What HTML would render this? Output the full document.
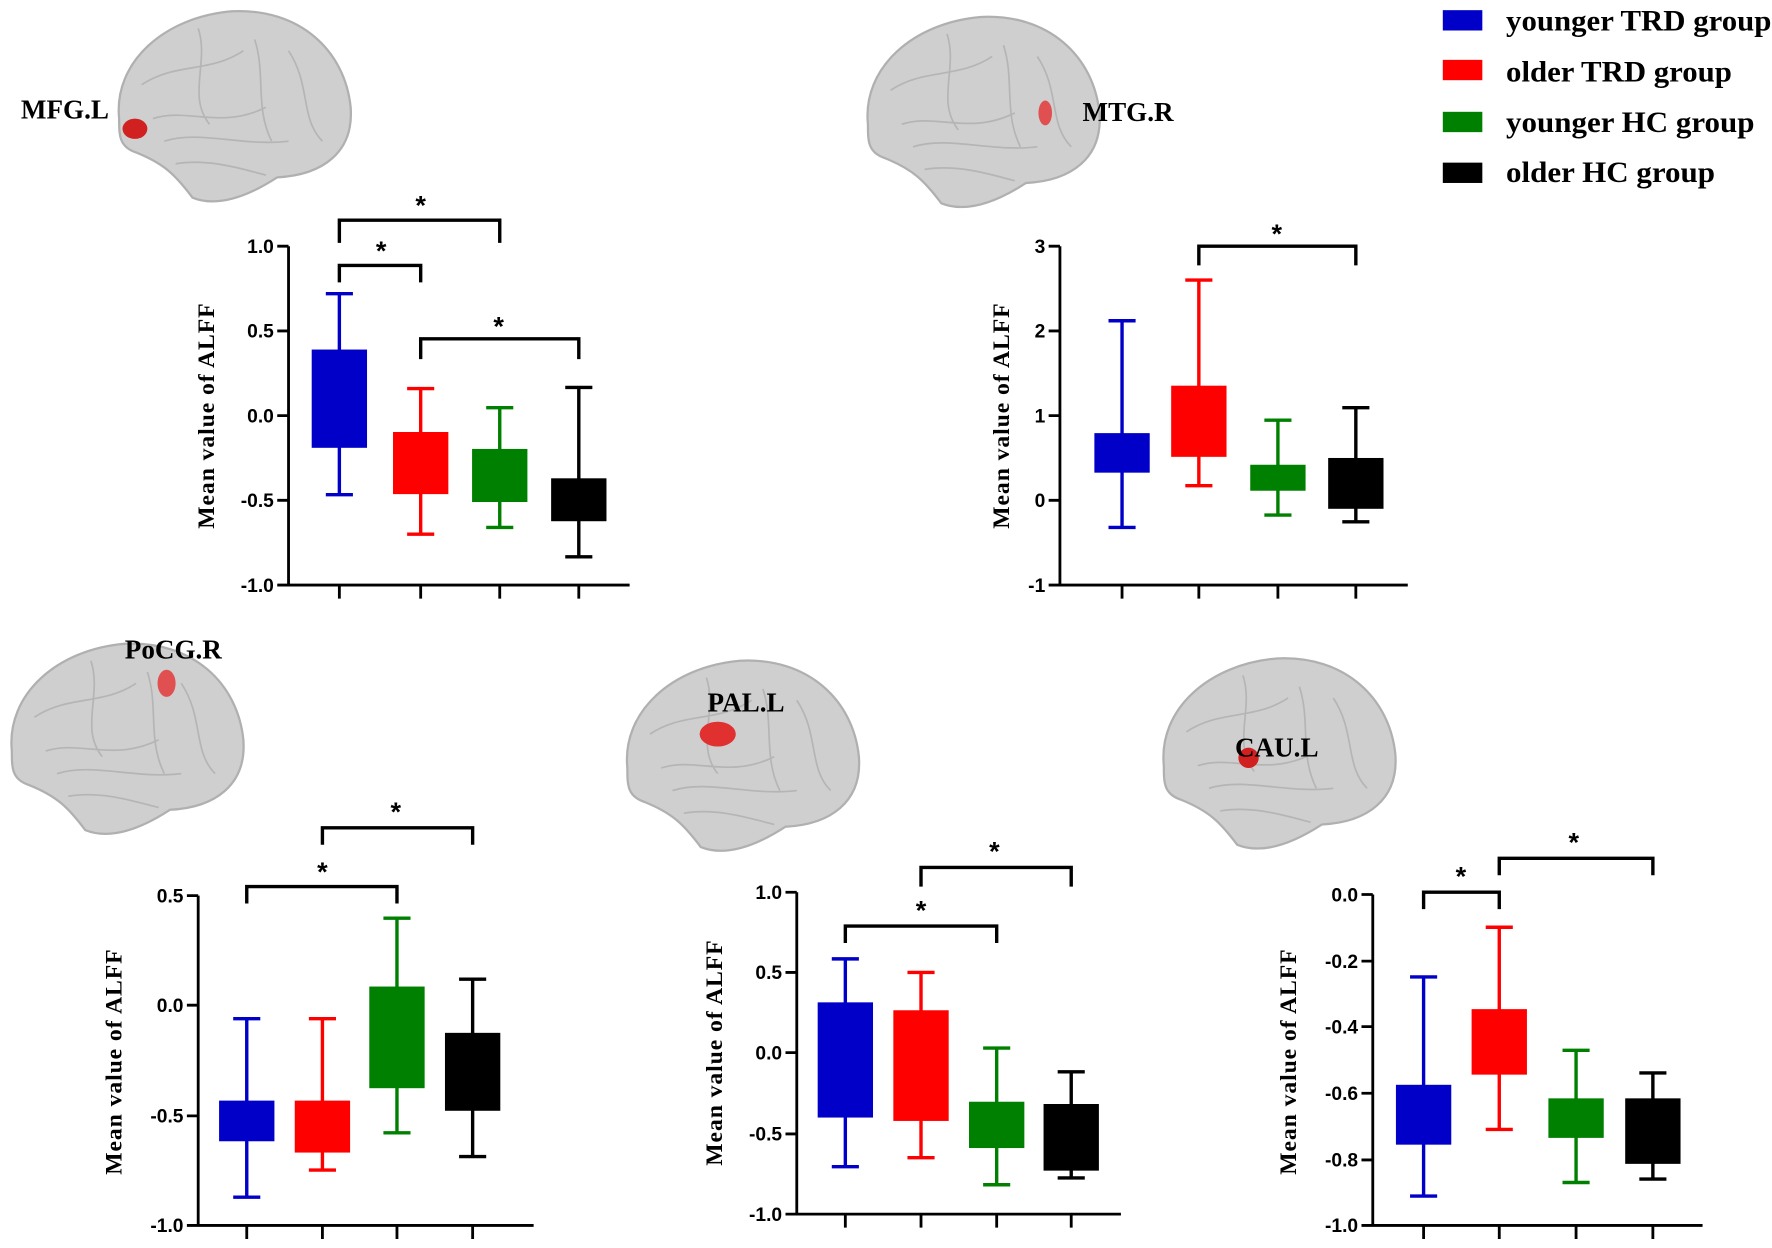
<!DOCTYPE html>
<html><head><meta charset="utf-8"><style>
html,body{margin:0;padding:0;background:#fff}
svg{display:block}
.t{font-family:"Liberation Sans",sans-serif;font-weight:bold;font-size:17px;fill:#000}
.yl{font-family:"Liberation Serif",serif;font-weight:bold;font-size:21px;fill:#000;letter-spacing:0.8px}
.lb{font-family:"Liberation Serif",serif;font-weight:bold;font-size:24px;fill:#000}
.lg{font-family:"Liberation Serif",serif;font-weight:bold;font-size:26px;fill:#000}
.st{font-family:"Liberation Sans",sans-serif;font-weight:bold;font-size:24px;fill:#000}
.ax{stroke:#000;stroke-width:2.5;fill:none}
.br{stroke:#000;stroke-width:3;fill:none}
.brain{fill:#cfcfcf;stroke:#b0b0b0;stroke-width:2}
.g{stroke:#b5b5b5;stroke-width:1.5;fill:none}
</style></head><body>
<svg width="1772" height="1248" viewBox="0 0 1568 1105" xmlns="http://www.w3.org/2000/svg">
<defs>
<g id="brain">
<path class="brain" d="M-100,10 C-105,-40 -60,-80 0,-85 C60,-88 100,-50 105,0 C108,40 80,60 40,62 C20,75 -10,90 -35,80 C-50,60 -60,50 -85,40 C-100,35 -100,25 -100,10Z"/>
<path class="g" d="M-80,-20 C-50,-40 -20,-30 10,-50 M-70,10 C-40,0 -10,20 30,0 M-60,30 C-30,20 10,35 50,30 M20,-60 C30,-30 20,0 35,30 M-30,-70 C-20,-40 -40,-10 -20,15 M50,-50 C70,-20 60,10 80,30 M-50,50 C-20,45 10,55 30,60"/>
</g>
</defs>

<!-- Legend -->
<rect x="1277" y="9" width="35" height="18" fill="#0000c8"/>
<rect x="1277" y="53" width="35" height="18" fill="#ff0000"/>
<rect x="1277" y="99" width="35" height="18" fill="#008000"/>
<rect x="1277" y="144" width="35" height="18" fill="#000"/>
<text class="lg" x="1333" y="27" textLength="235" lengthAdjust="spacingAndGlyphs">younger TRD group</text>
<text class="lg" x="1333" y="72" textLength="200" lengthAdjust="spacingAndGlyphs">older TRD group</text>
<text class="lg" x="1333" y="117" textLength="220" lengthAdjust="spacingAndGlyphs">younger HC group</text>
<text class="lg" x="1333" y="161" textLength="185" lengthAdjust="spacingAndGlyphs">older HC group</text>

<!-- Brains -->
<use href="#brain" x="205" y="95"/>
<ellipse cx="119" cy="114" rx="11" ry="9" fill="#d02020"/>
<text class="lb" x="18" y="105">MFG.L</text>
<use href="#brain" x="868" y="100"/>
<ellipse cx="925" cy="100" rx="6" ry="11" fill="#e05050"/>
<text class="lb" x="958" y="107">MTG.R</text>
<use href="#brain" x="110" y="655"/>
<ellipse cx="147" cy="605" rx="8" ry="12" fill="#e05050"/>
<text class="lb" x="110" y="583">PoCG.R</text>
<use href="#brain" x="655" y="670"/>
<ellipse cx="635" cy="650" rx="16" ry="11" fill="#e03030"/>
<text class="lb" x="626" y="630">PAL.L</text>
<use href="#brain" x="1130" y="668"/>
<ellipse cx="1105" cy="671" rx="9" ry="9" fill="#d02020"/>
<text class="lb" x="1093" y="670">CAU.L</text>

<!-- Chart 1 MFG.L -->
<path class="ax" d="M255,218 V518 H557 M245,218 H255 M245,293 H255 M245,368 H255 M245,443 H255 M245,518 H255 M300,518 V530 M372,518 V530 M442,518 V530 M512,518 V530"/>
<text class="t" x="242" y="224" text-anchor="end">1.0</text>
<text class="t" x="242" y="299" text-anchor="end">0.5</text>
<text class="t" x="242" y="374" text-anchor="end">0.0</text>
<text class="t" x="242" y="449" text-anchor="end">-0.5</text>
<text class="t" x="242" y="524" text-anchor="end">-1.0</text>
<text class="yl" transform="translate(189,368) rotate(-90)" text-anchor="middle">Mean value of ALFF</text>
<g stroke="#0000c8" stroke-width="3" fill="#0000c8"><path d="M300,260V438M288,260H312M288,438H312" fill="none"/><rect x="277" y="311" width="46" height="84"/></g>
<g stroke="#ff0000" stroke-width="3" fill="#ff0000"><path d="M372,344V473M360,344H384M360,473H384" fill="none"/><rect x="349" y="384" width="46" height="52"/></g>
<g stroke="#008000" stroke-width="3" fill="#008000"><path d="M442,361V467M430,361H454M430,467H454" fill="none"/><rect x="419" y="399" width="46" height="44"/></g>
<g stroke="#000" stroke-width="3" fill="#000"><path d="M512,343V493M500,343H524M500,493H524" fill="none"/><rect x="489" y="425" width="46" height="35"/></g>
<path class="br" d="M300,250V235H372V250 M300,215V195H442V215 M372,318V300H512V318"/>
<text class="st" x="337" y="230" text-anchor="middle">*</text>
<text class="st" x="372" y="190" text-anchor="middle">*</text>
<text class="st" x="441" y="297" text-anchor="middle">*</text>

<!-- Chart 2 MTG.R -->
<path class="ax" d="M938,218 V518 H1246 M928,218 H938 M928,293 H938 M928,368 H938 M928,443 H938 M928,518 H938 M993,518 V530 M1061,518 V530 M1131,518 V530 M1200,518 V530"/>
<text class="t" x="925" y="224" text-anchor="end">3</text>
<text class="t" x="925" y="299" text-anchor="end">2</text>
<text class="t" x="925" y="374" text-anchor="end">1</text>
<text class="t" x="925" y="449" text-anchor="end">0</text>
<text class="t" x="925" y="524" text-anchor="end">-1</text>
<text class="yl" transform="translate(893,368) rotate(-90)" text-anchor="middle">Mean value of ALFF</text>
<g stroke="#0000c8" stroke-width="3" fill="#0000c8"><path d="M993,284V467M981,284H1005M981,467H1005" fill="none"/><rect x="970" y="385" width="46" height="32"/></g>
<g stroke="#ff0000" stroke-width="3" fill="#ff0000"><path d="M1061,248V430M1049,248H1073M1049,430H1073" fill="none"/><rect x="1038" y="343" width="46" height="60"/></g>
<g stroke="#008000" stroke-width="3" fill="#008000"><path d="M1131,372V456M1119,372H1143M1119,456H1143" fill="none"/><rect x="1108" y="413" width="46" height="20"/></g>
<g stroke="#000" stroke-width="3" fill="#000"><path d="M1200,361V462M1188,361H1212M1188,462H1212" fill="none"/><rect x="1177" y="407" width="46" height="42"/></g>
<path class="br" d="M1061,235V218H1200V235"/>
<text class="st" x="1130" y="215" text-anchor="middle">*</text>

<!-- Chart 3 PoCG.R -->
<path class="ax" d="M175,793 V1085 H472 M165,793 H175 M165,890 H175 M165,988 H175 M165,1085 H175 M218,1085 V1097 M285,1085 V1097 M351,1085 V1097 M418,1085 V1097"/>
<text class="t" x="162" y="799" text-anchor="end">0.5</text>
<text class="t" x="162" y="896" text-anchor="end">0.0</text>
<text class="t" x="162" y="994" text-anchor="end">-0.5</text>
<text class="t" x="162" y="1091" text-anchor="end">-1.0</text>
<text class="yl" transform="translate(107,940) rotate(-90)" text-anchor="middle">Mean value of ALFF</text>
<g stroke="#0000c8" stroke-width="3" fill="#0000c8"><path d="M218,902V1060M206,902H230M206,1060H230" fill="none"/><rect x="195" y="976" width="46" height="33"/></g>
<g stroke="#ff0000" stroke-width="3" fill="#ff0000"><path d="M285,902V1036M273,902H297M273,1036H297" fill="none"/><rect x="262" y="976" width="46" height="43"/></g>
<g stroke="#008000" stroke-width="3" fill="#008000"><path d="M351,813V1003M339,813H363M339,1003H363" fill="none"/><rect x="328" y="875" width="46" height="87"/></g>
<g stroke="#000" stroke-width="3" fill="#000"><path d="M418,867V1024M406,867H430M406,1024H430" fill="none"/><rect x="395" y="916" width="46" height="66"/></g>
<path class="br" d="M218,800V785H351V800 M285,748V733H418V748"/>
<text class="st" x="285" y="780" text-anchor="middle">*</text>
<text class="st" x="350" y="727" text-anchor="middle">*</text>

<!-- Chart 4 PAL.L -->
<path class="ax" d="M705,790 V1075 H992 M695,790 H705 M695,861 H705 M695,932 H705 M695,1004 H705 M695,1075 H705 M748,1075 V1087 M815,1075 V1087 M882,1075 V1087 M948,1075 V1087"/>
<text class="t" x="692" y="796" text-anchor="end">1.0</text>
<text class="t" x="692" y="867" text-anchor="end">0.5</text>
<text class="t" x="692" y="938" text-anchor="end">0.0</text>
<text class="t" x="692" y="1010" text-anchor="end">-0.5</text>
<text class="t" x="692" y="1081" text-anchor="end">-1.0</text>
<text class="yl" transform="translate(639,932) rotate(-90)" text-anchor="middle">Mean value of ALFF</text>
<g stroke="#0000c8" stroke-width="3" fill="#0000c8"><path d="M748,849V1033M736,849H760M736,1033H760" fill="none"/><rect x="725" y="889" width="46" height="99"/></g>
<g stroke="#ff0000" stroke-width="3" fill="#ff0000"><path d="M815,861V1025M803,861H827M803,1025H827" fill="none"/><rect x="792" y="896" width="46" height="95"/></g>
<g stroke="#008000" stroke-width="3" fill="#008000"><path d="M882,928V1049M870,928H894M870,1049H894" fill="none"/><rect x="859" y="977" width="46" height="38"/></g>
<g stroke="#000" stroke-width="3" fill="#000"><path d="M948,949V1043M936,949H960M936,1043H960" fill="none"/><rect x="925" y="979" width="46" height="56"/></g>
<path class="br" d="M748,835V820H882V835 M815,785V768H948V785"/>
<text class="st" x="815" y="814" text-anchor="middle">*</text>
<text class="st" x="880" y="762" text-anchor="middle">*</text>

<!-- Chart 5 CAU.L -->
<path class="ax" d="M1215,792 V1085 H1507 M1205,792 H1215 M1205,851 H1215 M1205,909 H1215 M1205,968 H1215 M1205,1027 H1215 M1205,1085 H1215 M1260,1085 V1097 M1327,1085 V1097 M1395,1085 V1097 M1463,1085 V1097"/>
<text class="t" x="1202" y="798" text-anchor="end">0.0</text>
<text class="t" x="1202" y="857" text-anchor="end">-0.2</text>
<text class="t" x="1202" y="915" text-anchor="end">-0.4</text>
<text class="t" x="1202" y="974" text-anchor="end">-0.6</text>
<text class="t" x="1202" y="1033" text-anchor="end">-0.8</text>
<text class="t" x="1202" y="1091" text-anchor="end">-1.0</text>
<text class="yl" transform="translate(1147,940) rotate(-90)" text-anchor="middle">Mean value of ALFF</text>
<g stroke="#0000c8" stroke-width="3" fill="#0000c8"><path d="M1260,865V1059M1248,865H1272M1248,1059H1272" fill="none"/><rect x="1237" y="962" width="46" height="50"/></g>
<g stroke="#ff0000" stroke-width="3" fill="#ff0000"><path d="M1327,821V1000M1315,821H1339M1315,1000H1339" fill="none"/><rect x="1304" y="895" width="46" height="55"/></g>
<g stroke="#008000" stroke-width="3" fill="#008000"><path d="M1395,930V1047M1383,930H1407M1383,1047H1407" fill="none"/><rect x="1372" y="974" width="46" height="32"/></g>
<g stroke="#000" stroke-width="3" fill="#000"><path d="M1463,950V1044M1451,950H1475M1451,1044H1475" fill="none"/><rect x="1440" y="974" width="46" height="55"/></g>
<path class="br" d="M1260,805V790H1327V805" stroke="#333"/>
<path class="br" d="M1327,775V760H1463V775"/>
<text class="st" x="1293" y="784" text-anchor="middle">*</text>
<text class="st" x="1393" y="754" text-anchor="middle">*</text>
</svg>
</body></html>
